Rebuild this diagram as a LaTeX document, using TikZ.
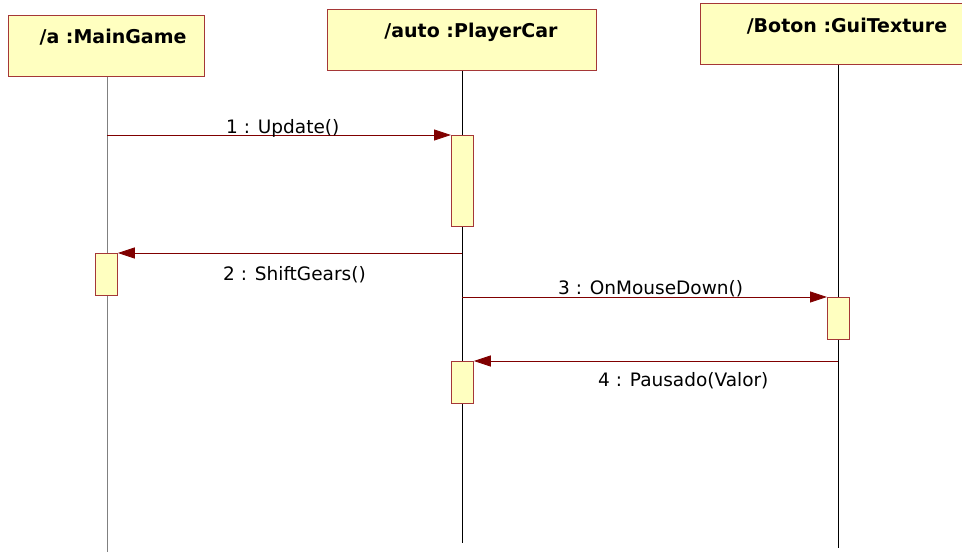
\documentclass[tikz,border=0pt]{standalone}
\usepackage{fontspec}
\setmainfont{DejaVu Sans}
\usetikzlibrary{arrows.meta}
\definecolor{boxfill}{RGB}{255,255,192}
\definecolor{boxline}{RGB}{165,55,55}
\definecolor{msgred}{RGB}{128,0,0}
\tikzset{
  headbox/.style={draw=boxline, fill=boxfill, line width=0.9pt, anchor=north west, inner sep=0pt},
  headtext/.style={font=\bfseries\fontsize{19}{22}\selectfont, anchor=base, inner sep=0pt},
  actbox/.style={draw=boxline, fill=boxfill, line width=0.8pt, anchor=north west, minimum width=22pt, inner sep=0pt},
  lifeline/.style={line width=0.9pt},
  msg/.style={draw=msgred, line width=0.8pt, -{Triangle[length=17pt,width=11pt]}},
  msgtext/.style={font=\fontsize{18.5}{21}\selectfont, inner sep=0pt, anchor=base west}
}
\begin{document}
\begin{tikzpicture}[x=1pt, y=-1pt]
\useasboundingbox (0,0) rectangle (962,552);

% object headers
\node[headbox, minimum width=196pt, minimum height=61pt] (mg) at (8,15) {};
\node[headtext] (mgt) at (113,43) {/a :MainGame};
\node[headbox, minimum width=269pt, minimum height=61pt] (pc) at (327,9) {};
\node[headtext] (pct) at (471,37) {/auto :PlayerCar};
\node[headbox, minimum width=266pt, minimum height=61pt] (gt) at (700,3) {};
\node[headtext] (gtt) at (847,32) {/Boton :GuiTexture};

% lifeline ends
\coordinate (mgEnd) at (107,552);
\coordinate (pcEnd) at (462,543);
\coordinate (gtEnd) at (838,548);

\draw[lifeline, draw=gray] (mg.south -| mgEnd) -- (mgEnd);
\draw[lifeline] (pc.south -| pcEnd) -- (pcEnd);
\draw[lifeline] (gt.south -| gtEnd) -- (gtEnd);

% activations
\node[actbox, minimum height=91pt] (a1) at (451,135) {};
\node[actbox, minimum height=42pt] (a2) at (95,253) {};
\node[actbox, minimum height=42pt] (a3) at (827,297) {};
\node[actbox, minimum height=42pt] (a4) at (451,361) {};

% messages
\draw[msg] (a1.north west -| mgEnd) -- (a1.north west);
\node[msgtext] (m1) at (226,133) {1 : Update()};

\draw[msg] (a2.north east -| pcEnd) -- (a2.north east);
\node[msgtext] (m2) at (223,280) {2 : ShiftGears()};

\draw[msg] (a3.north west -| pcEnd) -- (a3.north west);
\node[msgtext] (m3) at (558,294) {3 : OnMouseDown()};

\draw[msg] (a4.north east -| gtEnd) -- (a4.north east);
\node[msgtext] (m4) at (598,386) {4 : Pausado(Valor)};
\end{tikzpicture}
\end{document}
